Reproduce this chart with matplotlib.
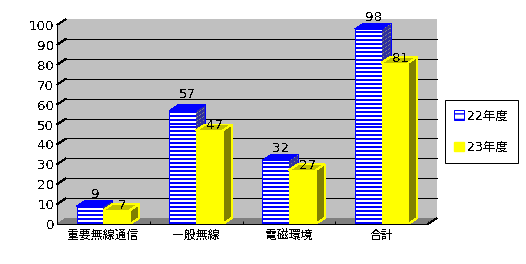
import matplotlib
matplotlib.use('Agg')
import matplotlib.pyplot as plt
from matplotlib.patches import Patch, Polygon

plt.rcParams['font.family'] = ['DejaVu Sans', 'Noto Sans CJK JP']
plt.rcParams['text.antialiased'] = False
plt.rcParams['hatch.linewidth'] = 1.0

categories = ['重要無線通信', '一般無線', '電磁環境', '合計']
series_names = ['22年度', '23年度']
values_22 = [9, 57, 32, 98]
values_23 = [7, 47, 27, 81]
yticks = [0, 10, 20, 30, 40, 50, 60, 70, 80, 90, 100]

W, H = 526, 264
BLUE = '#0000ff'
YELLOW = '#ffff00'
PX = 0.72  # one pixel in points

fig = plt.figure(figsize=(W / 100, H / 100), dpi=100)
ax = fig.add_axes([57 / W, (H - 224) / H, 371 / W, 199 / H])
ax.set_xlim(0, 4)
ax.set_ylim(0, 100)

# depth of the fake 3d box, in data units
dx = 9 / (371 / 4)
dy = 3.0
bw = 0.288


def poly(pts, fc, z=1):
    p = Polygon(pts, closed=True, facecolor=fc, edgecolor='none',
                antialiased=False, clip_on=False, zorder=z)
    ax.add_patch(p)


def line(xs, ys, color='black', z=2):
    ax.plot(xs, ys, color=color, lw=PX, clip_on=False, zorder=z,
            antialiased=False, solid_capstyle='butt')


# walls and floor
poly([(0, 0), (dx, dy), (4 + dx, dy), (4 + dx, 100 + dy), (dx, 100 + dy), (0, 100)], '#c0c0c0')
poly([(0, 0), (dx, dy), (4 + dx, dy), (4, 0)], '#808080')
for v in yticks[1:-1]:
    line([dx, 4 + dx], [v + dy, v + dy])
for v in yticks[1:]:
    line([0, dx], [v, v + dy])

x_pos = [i + 0.5 for i in range(len(categories))]

# 22 series: white face, blue stripes
for x, v in zip(x_pos, values_22):
    l, r = x - bw, x
    poly([(r, 0), (r + dx, dy), (r + dx, v + dy), (r, v)], '#808080', z=3)
    for s in range(0, v, 2):
        poly([(r, s), (r + dx, s + dy), (r + dx, s + dy + 1), (r, s + 1)], '#3030a0', z=3)
    poly([(l, v), (l + dx, v + dy), (r + dx, v + dy), (r, v)], BLUE, z=3)
    line([r + dx, r + dx], [dy, v + dy], BLUE, z=3)
    ax.bar(l, v, width=bw, align='edge', color='white', zorder=3, antialiased=False)
    for s in range(0, v, 2):
        ax.bar(l, 1, bottom=s, width=bw, align='edge', color=BLUE, zorder=3, antialiased=False)
    line([l, l], [0, v], BLUE, z=3)
    line([l, r], [v, v], BLUE, z=3)

# 23 series: flat yellow box
for x, v in zip(x_pos, values_23):
    l, r = x, x + bw
    poly([(r, 0), (r + dx, dy), (r + dx, v + dy), (r, v)], '#808000', z=4)
    poly([(l, v), (l + dx, v + dy), (r + dx, v + dy), (r, v)], '#c0c000', z=4)
    line([l, l + dx, r + dx, r + dx, r, r], [v, v + dy, v + dy, dy, 0, v], YELLOW, z=4)
    line([r, r + dx], [v, v + dy], YELLOW, z=4)
    ax.bar(l, v, width=bw, align='edge', color=YELLOW, zorder=4, antialiased=False)

# value labels
for x, v in zip(x_pos, values_22):
    off = 6.5 if v == 57 else 4
    ax.text(x - bw / 2 + 0.055, v + off, str(v), ha='center', va='baseline',
            fontsize=9.6, zorder=6, clip_on=False)
for x, v in zip(x_pos, values_23):
    ax.text(x + bw / 2 + 0.055, v + 0.5, str(v), ha='center', va='baseline',
            fontsize=9.6, zorder=6, clip_on=False)

# axes
for side in ['top', 'right']:
    ax.spines[side].set_visible(False)
for side in ['left', 'bottom']:
    ax.spines[side].set_linewidth(PX)
    ax.spines[side].set_zorder(7)
ax.set_yticks(yticks)
ax.tick_params(axis='y', length=0, pad=2, labelsize=9.6)
ax.set_xticks(range(5))
ax.set_xticklabels([])
ax.tick_params(axis='x', which='major', direction='in', length=2.5, width=PX)
ax.set_xticks(x_pos, minor=True)
ax.set_xticklabels(categories, minor=True, fontsize=8.6)
ax.tick_params(axis='x', which='minor', length=0, pad=3.5)
line([4, 4 + dx], [0, dy])

handles = [Patch(facecolor='white', edgecolor=BLUE, hatch='---', linewidth=PX),
           Patch(facecolor=YELLOW, edgecolor=YELLOW)]
leg = fig.legend(handles, series_names, loc='upper left',
                 bbox_to_anchor=(445 / W, (H - 100) / H), bbox_transform=fig.transFigure,
                 fontsize=9, fancybox=False, edgecolor='black', framealpha=1,
                 borderaxespad=0, handlelength=0.75, handleheight=0.75, handletextpad=0.3,
                 labelspacing=1.45, borderpad=0.75)
leg.get_frame().set_linewidth(PX)

fig.savefig('out.png', dpi=100)
